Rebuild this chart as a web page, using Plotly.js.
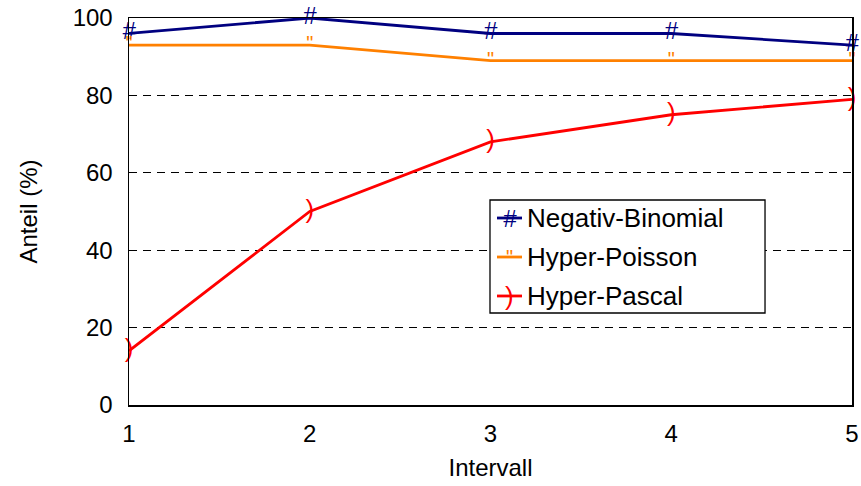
<!DOCTYPE html>
<html>
<head>
<meta charset="utf-8">
<script src="https://cdn.plot.ly/plotly-3.0.1.min.js"></script>
<style>html,body{margin:0;padding:0;background:#fff;}#chart{width:861px;height:486px;}</style>
</head>
<body>
<div id="chart"></div>
<script>
const intervals = [1, 2, 3, 4, 5];
const negativBinomial = [96, 100, 96, 96, 93];
const hyperPoisson = [93, 93, 89, 89, 89];
const hyperPascal = [14, 50, 68, 75, 79];
const seriesNames = ["Negativ-Binomial", "Hyper-Poisson", "Hyper-Pascal"];
const seriesGlyphs = ["#", "\"", ")"];
const seriesColors = ["#000080", "#FF8000", "#FF0000"];
const yTicks = [0, 20, 40, 60, 80, 100];

const FONT = "Liberation Sans, Arial, sans-serif";
const allY = [negativBinomial, hyperPoisson, hyperPascal];
const glyphFont = [
  {size: 24, style: "italic"},
  {size: 20, style: "normal"},
  {size: 26, style: "normal"}
];

const traces = allY.map((ys, i) => ({
  x: intervals, y: ys, type: "scatter", mode: "lines+text",
  text: intervals.map(() => seriesGlyphs[i]),
  textposition: "middle center",
  textfont: {family: FONT, color: seriesColors[i], size: glyphFont[i].size, style: glyphFont[i].style},
  line: {color: seriesColors[i], width: 2.8},
  cliponaxis: false, showlegend: false, hoverinfo: "skip"
}));

// manual legend
const L = {x0: 0.4993, x1: 0.8797, y0: 0.2377, y1: 0.5297};
const rowsY = [0.4832, 0.3824, 0.2817];
const shapes = [{type: "rect", xref: "paper", yref: "paper", x0: L.x0, x1: L.x1, y0: L.y0, y1: L.y1,
  line: {color: "#000", width: 1.3}, fillcolor: "#fff", layer: "above"}];
const annotations = [];
seriesNames.forEach((n, i) => {
  shapes.push({type: "line", xref: "paper", yref: "paper", x0: 0.509, x1: 0.5436, y0: rowsY[i], y1: rowsY[i],
    line: {color: seriesColors[i], width: 2.8}, layer: "above"});
  annotations.push({xref: "paper", yref: "paper", x: 0.5263, y: rowsY[i], text: seriesGlyphs[i],
    showarrow: false, xanchor: "center", yanchor: "middle",
    font: {family: FONT, color: seriesColors[i], size: glyphFont[i].size, style: glyphFont[i].style}});
  annotations.push({xref: "paper", yref: "paper", x: 0.5477, y: rowsY[i], text: n, showarrow: false,
    xanchor: "left", yanchor: "middle", font: {family: FONT, color: "#000", size: 26}});
});

const layout = {
  width: 861, height: 486,
  margin: {l: 129, r: 9, t: 18, b: 81},
  paper_bgcolor: "#fff", plot_bgcolor: "#fff",
  font: {family: FONT, color: "#000", size: 24},
  showlegend: false,
  xaxis: {
    range: [1, 5], tickvals: intervals, ticktext: intervals.map(String),
    showgrid: false, zeroline: false, showline: true, linecolor: "#000", linewidth: 1.5, mirror: true,
    ticks: "", tickfont: {size: 24}, ticklabelstandoff: 7,
    title: {text: "Intervall", font: {size: 24}, standoff: 13}
  },
  yaxis: {
    range: [0, 100], tickvals: yTicks, ticktext: yTicks.map(String),
    showgrid: true, gridcolor: "#000", gridwidth: 1, griddash: "8px,6px",
    zeroline: false, showline: true, linecolor: "#000", linewidth: 1.5, mirror: true,
    ticks: "", tickfont: {size: 24}, ticklabelstandoff: 10,
    title: {text: "Anteil (%)", font: {size: 24}, standoff: 28}
  },
  shapes: shapes,
  annotations: annotations
};

Plotly.newPlot("chart", traces, layout, {displayModeBar: false, staticPlot: true});
</script>
</body>
</html>
